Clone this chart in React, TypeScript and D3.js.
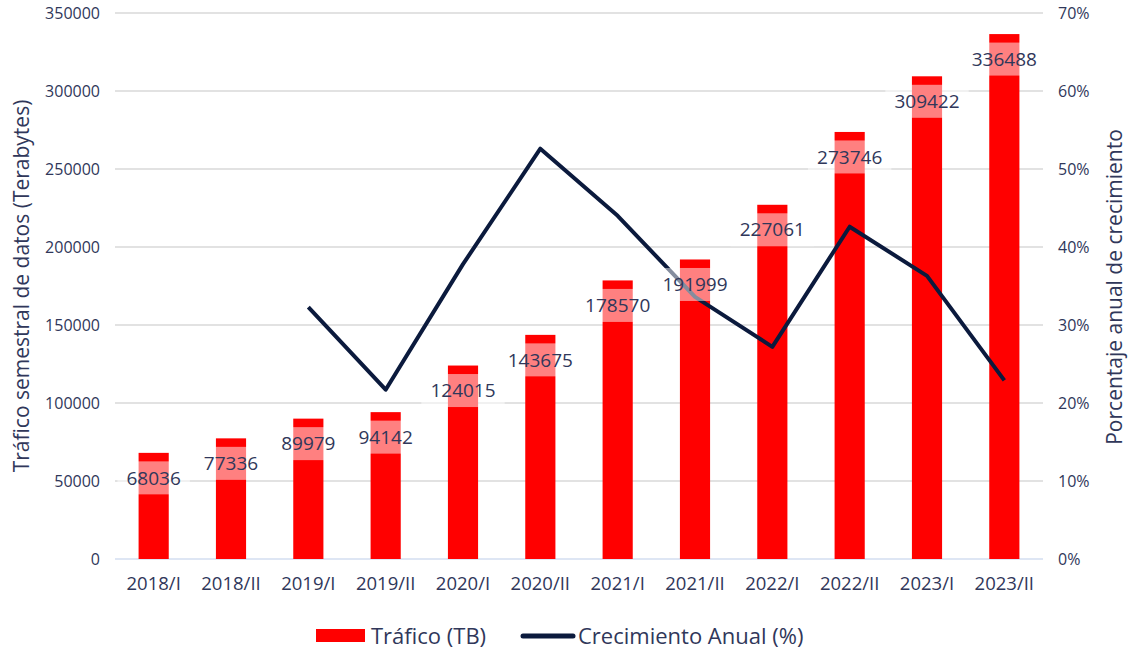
import React from "react";
import * as d3 from "d3";

const categories = ["2018/I","2018/II","2019/I","2019/II","2020/I","2020/II","2021/I","2021/II","2022/I","2022/II","2023/I","2023/II"];
const traffic = [68036,77336,89979,94142,124015,143675,178570,191999,227061,273746,309422,336488];
const growth: (number | null)[] = [null,null,32.3,21.7,37.8,52.6,44.0,33.6,27.2,42.6,36.3,22.9];
const leftTicks = [0,50000,100000,150000,200000,250000,300000,350000];
const rightTicks = [0,10,20,30,40,50,60,70];

const W = 1129, H = 649;
const M = { left: 115, right: 1043, top: 13, bottom: 559 };
const FONT = "'Open Sans', 'Noto Sans', sans-serif";
const TXT = "#30375a";
const NAVY = "#0b1a3d";

export default function App() {
  const x = d3.scaleBand<string>().domain(categories).range([M.left, M.right]).paddingInner(0.61).paddingOuter(0.305);
  const y = d3.scaleLinear().domain([0, 350000]).range([M.bottom, M.top]);
  const y2 = d3.scaleLinear().domain([0, 70]).range([M.bottom, M.top]);
  const cx = (c: string) => (x(c) as number) + x.bandwidth() / 2;
  const pts = categories.map((c, i) => ({ c, v: growth[i] })).filter(d => d.v !== null) as { c: string; v: number }[];
  const line = d3.line<{ c: string; v: number }>().x(d => cx(d.c)).y(d => y2(d.v));

  return (
    <svg width={W} height={H} style={{ position: "absolute", left: 0, top: 0, fontFamily: FONT }}>
      <rect width={W} height={H} fill="#fff" />
      {leftTicks.slice(1).map(t => (
        <line key={t} x1={M.left} x2={M.right} y1={y(t)} y2={y(t)} stroke="#d9d9d9" strokeWidth={1.5} />
      ))}
      <line x1={M.left} x2={M.right} y1={y(0)} y2={y(0)} stroke="#d3def1" strokeWidth={1.5} />
      {leftTicks.map(t => (
        <text key={t} x={100} y={y(t)} dy="0.35em" textAnchor="end" fontSize={16} fill={TXT}>{t}</text>
      ))}
      {rightTicks.map(t => (
        <text key={t} x={1058} y={y2(t)} dy="0.35em" textAnchor="start" fontSize={16} fill={TXT}>{t}%</text>
      ))}
      {categories.map(c => (
        <text key={c} x={cx(c)} y={584} dy="0.35em" textAnchor="middle" fontSize={18.5} fill={TXT}>{c}</text>
      ))}
      {categories.map((c, i) => (
        <rect key={c} x={x(c)} y={y(traffic[i])} width={x.bandwidth()} height={y(0) - y(traffic[i])} fill="#ff0000" />
      ))}
      <path d={line(pts) || ""} fill="none" stroke={NAVY} strokeWidth={4} strokeLinejoin="round" />
      {categories.map((c, i) => {
        const ty = y(traffic[i]) + 25;
        const label = String(traffic[i]);
        const tw = label.length * 10.9;
        return (
          <g key={c}>
            <rect x={cx(c) - tw / 2 - 9} y={ty - 16.5} width={tw + 18} height={33} fill="#fff" fillOpacity={0.5} />
            <text x={cx(c)} y={ty} dy="0.35em" textAnchor="middle" fontSize={19} fill={TXT}>{label}</text>
          </g>
        );
      })}
      <text transform={`translate(22,286) rotate(-90)`} textAnchor="middle" fontSize={21} fill={TXT} dy="0.35em">Tráfico semestral de datos (Terabytes)</text>
      <text transform={`translate(1115,287) rotate(-90)`} textAnchor="middle" fontSize={21} fill={TXT} dy="0.35em">Porcentaje anual de crecimiento</text>
      <rect x={316} y={629} width={49} height={13} fill="#ff0000" />
      <text x={371} y={636} dy="0.35em" fontSize={22} fill={TXT}>Tráfico (TB)</text>
      <line x1={523} x2={573} y1={636} y2={636} stroke={NAVY} strokeWidth={5} strokeLinecap="round" />
      <text x={578} y={636} dy="0.35em" fontSize={22} fill={TXT}>Crecimiento Anual (%)</text>
    </svg>
  );
}
